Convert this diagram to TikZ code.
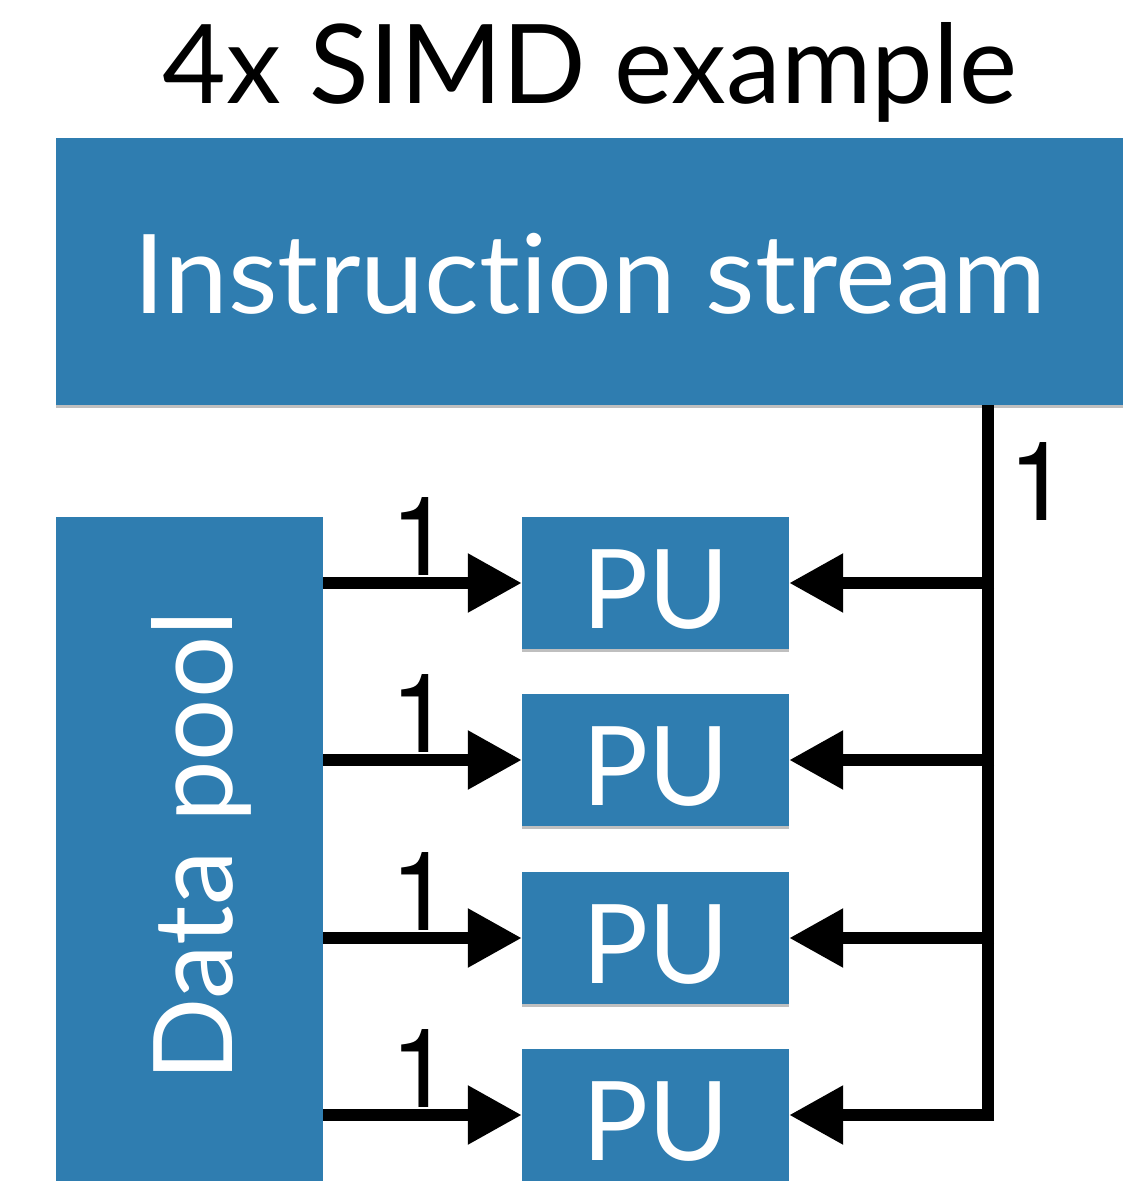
\documentclass[tikz,border=0pt]{standalone}
\usepackage{fontspec}
\setmainfont{Lato}[Ligatures=NoCommon]
\newfontfamily\helvnum{TeX Gyre Heros}
\usetikzlibrary{arrows.meta,calc}
\definecolor{boxblue}{RGB}{47,125,176}
\newcommand{\numone}{{\helvnum\fontsize{110}{120}\selectfont 1}}
\begin{document}
\begin{tikzpicture}[x=1pt,y=-1pt,
  box/.style={fill=boxblue, draw=none, inner sep=0pt, text=white},
  shadowed/.style={preaction={fill=black!25, transform canvas={yshift=-3pt}}},
  conn/.style={line width=12pt, -{Triangle[length=54pt,width=56pt]}},
  bigtxt/.style={font=\fontsize{110}{120}\selectfont},
  numtxt/.style={inner sep=0pt}]
\useasboundingbox[fill=white] (0,0) rectangle (1123,1181);
% title
\node[bigtxt, anchor=base] (title) at (590,103) {4x SIMD example};
% instruction stream
\node[box, shadowed, minimum width=1080pt, minimum height=267pt] (ins) at (596,271.5) {};
\node[bigtxt, text=white, anchor=base, xscale=1.04] (inslabel) at (590,313) {Instruction stream};
% data pool
\node[box, shadowed, minimum width=267pt, minimum height=700pt, anchor=north west] (dp) at (56,517) {};
\node[bigtxt, text=white, rotate=90, anchor=base] (dplabel) at (232,846) {Data pool};
% PUs
\foreach \i/\y in {1/583,2/760,3/938,4/1115}{
  \node[box, shadowed, minimum width=267pt, minimum height=132pt] (pu\i) at (655.5,\y) {};
  \node[bigtxt, text=white, anchor=base] (pulabel\i) at (655.5,\y+45) {PU};
}
% bus
\coordinate (bustop) at (988,405);
\coordinate (busbot) at (988,1121);
\draw[line width=12pt] (bustop) -- (busbot);
\node[numtxt, anchor=base west] (busnum) at (1008,520) {\numone};
\foreach \i in {1,2,3,4}{
  \draw[conn] (dp.east |- pu\i) -- (pu\i.west);
  \draw[conn] (bustop |- pu\i) ++(6pt,0) -- (pu\i.east);
  \node[numtxt, anchor=base] (n\i) at ($(dp.east |- pu\i) + (98,-8)$) {\numone};
}
\end{tikzpicture}
\end{document}
